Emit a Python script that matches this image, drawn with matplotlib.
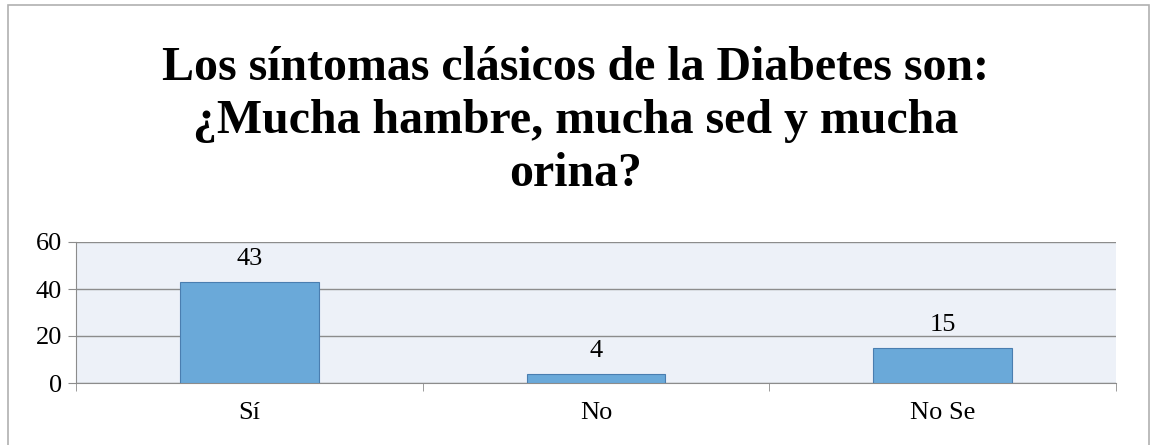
import matplotlib
matplotlib.use("Agg")
import matplotlib.pyplot as plt
from matplotlib.patches import Rectangle

categories = ["Sí", "No", "No Se"]
values = [43, 4, 15]
yticks = [0, 20, 40, 60]
title = "Los síntomas clásicos de la Diabetes son:\n¿Mucha hambre, mucha sed y mucha\norina?"

plt.rcParams['font.family'] = ['Liberation Serif', 'DejaVu Serif']

W, H = 1151, 445
fig = plt.figure(figsize=(W/100, H/100), dpi=100)
fig.patches.append(Rectangle((8/W, -0.01), (1149-8)/W, (H-5)/H + 0.01, transform=fig.transFigure,
                             fill=False, edgecolor='#b0b0b0', linewidth=1.2))

left, right, top, bottom = 76, 1116, 242, 383
ax = fig.add_axes([left/W, 1-bottom/H, (right-left)/W, (bottom-top)/H])
ax.set_facecolor('#edf1f8')
x = list(range(len(categories)))
bars = ax.bar(x, values, width=0.4, color='#6aa9d9', edgecolor='#4a7eb0', linewidth=0.8, zorder=3)
for xi, v in zip(x, values):
    ax.text(xi, v + 5, str(v), ha='center', va='bottom', fontsize=19, zorder=4)
ax.set_xlim(-0.5, len(categories) - 0.5)
ax.set_ylim(0, 60)
ax.set_yticks(yticks)
ax.set_yticklabels([str(t) for t in yticks], fontsize=19)
ax.yaxis.grid(True, color='#8c8c8c', linewidth=1, zorder=0)
ax.set_xticks(x)
ax.set_xticklabels(categories, fontsize=19)
ax.tick_params(axis='x', length=0, pad=14)
ax.set_xticks([i - 0.5 for i in range(len(categories) + 1)], minor=True)
ax.tick_params(axis='x', which='minor', length=6, color='#8c8c8c')
ax.tick_params(axis='y', length=6, color='#8c8c8c', pad=4)
for s in ['top', 'right']:
    ax.spines[s].set_visible(False)
ax.spines['left'].set_color('#8c8c8c')
ax.spines['bottom'].set_color('#8c8c8c')

fig.text(0.5, 1-46/H, title, ha='center', va='top', fontsize=34.5, fontweight='bold',
         linespacing=1.27)

fig.savefig("out.png", dpi=100)
